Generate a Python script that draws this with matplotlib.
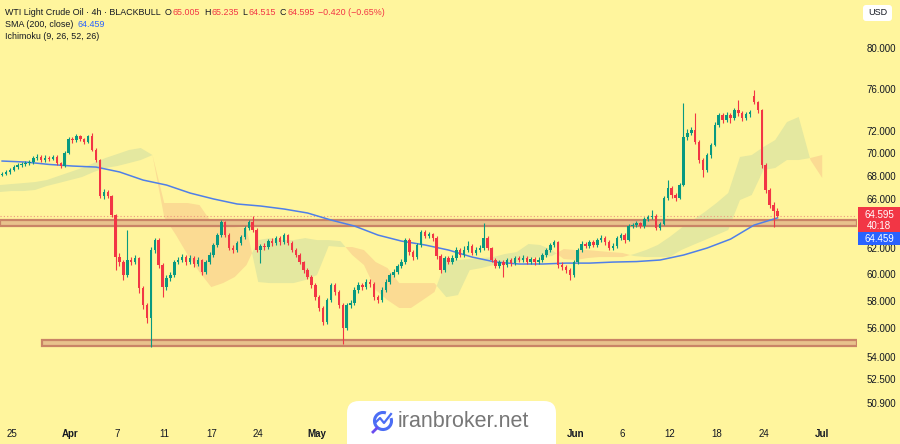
import numpy as np
import matplotlib
matplotlib.use('Agg')
import matplotlib.pyplot as plt
from matplotlib.patches import Rectangle, FancyBboxPatch, Arc

from matplotlib.ticker import NullLocator

plt.rcParams['font.family'] = ['Liberation Sans', 'DejaVu Sans']

# ---------------- data ----------------
first_open = 68.08
gap_opens = {192: 75.29}

closes = [
    68.17, 68.34, 68.51, 68.77, 68.95, 69.04, 69.12, 69.21, 69.57, 69.66,
    69.39, 69.57, 69.48, 69.66, 69.12, 68.86, 70.01, 71.27, 71.18, 71.54,
    71.27, 71.00, 71.54, 70.28, 69.39, 66.28, 66.62, 66.28, 64.69, 61.32,
    60.93, 59.93, 61.09, 60.93, 61.24, 58.95, 57.68, 56.73, 61.87, 62.66,
    60.70, 59.02, 59.70, 59.93, 60.93, 61.09, 61.32, 60.93, 61.24, 60.78,
    61.09, 60.16, 60.93, 61.48, 62.27, 63.06, 64.12, 63.06, 62.03, 61.87,
    62.42, 62.90, 63.63, 64.12, 63.47, 61.87, 62.19, 62.11, 62.58, 62.42,
    62.82, 62.50, 63.06, 62.42, 61.87, 61.48, 60.93, 60.31, 59.78, 59.17,
    58.27, 57.47, 56.45, 58.05, 59.17, 58.65, 57.68, 56.02, 57.68, 57.83,
    58.80, 59.17, 59.02, 59.40, 59.25, 58.27, 58.05, 58.80, 59.40, 59.93,
    60.16, 60.62, 60.93, 62.66, 61.71, 61.32, 62.27, 63.31, 62.98, 63.14,
    62.82, 61.40, 60.31, 61.24, 60.93, 61.24, 61.87, 61.48, 61.87, 62.19,
    61.64, 61.87, 62.03, 62.82, 62.03, 61.09, 60.62, 60.93, 60.70, 61.09,
    60.85, 61.24, 61.09, 61.24, 60.93, 61.17, 60.93, 61.09, 61.48, 61.87,
    62.27, 62.50, 60.70, 60.54, 60.31, 59.93, 60.93, 61.87, 62.34, 62.19,
    62.50, 62.27, 62.66, 62.82, 62.50, 62.03, 62.19, 62.82, 63.06, 62.66,
    63.79, 63.87, 64.03, 63.79, 64.36, 64.52, 64.61, 63.63, 63.95, 66.11,
    66.96, 66.36, 66.11, 67.21, 71.45, 71.82, 72.09, 71.00, 69.39, 68.51,
    69.83, 70.73, 72.55, 73.48, 73.02, 73.48, 73.20, 73.95, 73.67, 73.20,
    73.58, 73.76, 74.71, 73.95, 68.95, 66.79, 65.52, 65.005, 64.595,
]
highs = [
    68.35, 68.50, 68.70, 68.95, 69.10, 69.25, 69.30, 69.40, 69.75, 69.90,
    69.85, 69.80, 69.75, 69.85, 69.80, 69.25, 70.20, 71.45, 71.50, 71.72,
    71.65, 71.40, 71.65, 71.82, 70.45, 69.50, 66.85, 66.80, 66.40, 64.80,
    61.60, 61.10, 63.47, 61.35, 61.45, 61.35, 59.10, 57.85, 62.10, 62.82,
    62.80, 60.85, 59.95, 60.20, 61.10, 61.30, 61.55, 61.50, 61.45, 61.40,
    61.30, 61.20, 61.10, 61.70, 62.45, 63.25, 64.28, 64.20, 63.20, 62.25,
    62.60, 63.10, 63.80, 64.30, 64.61, 63.60, 62.35, 62.40, 62.75, 62.80,
    63.00, 62.95, 63.22, 63.15, 62.55, 62.00, 61.60, 61.05, 60.45, 59.90,
    59.30, 58.40, 57.60, 58.20, 59.35, 59.30, 58.80, 57.80, 57.85, 58.05,
    59.00, 59.40, 59.35, 59.60, 59.60, 59.40, 58.45, 59.00, 59.60, 60.10,
    60.40, 60.80, 61.15, 62.85, 62.80, 61.85, 62.45, 63.50, 63.45, 63.35,
    63.25, 62.95, 61.55, 61.40, 61.40, 61.45, 62.10, 62.05, 62.20, 62.55,
    62.35, 62.10, 62.30, 64.03, 62.95, 62.15, 61.25, 61.10, 61.10, 61.25,
    61.25, 61.40, 61.40, 61.45, 61.40, 61.35, 61.35, 61.30, 61.65, 62.05,
    62.45, 62.66, 62.60, 60.90, 60.70, 60.45, 61.10, 62.05, 62.55, 62.50,
    62.70, 62.65, 62.85, 63.05, 63.00, 62.65, 62.40, 63.00, 63.25, 63.20,
    63.95, 64.05, 64.20, 64.15, 64.55, 64.70, 65.11, 64.75, 64.15, 66.30,
    67.64, 67.10, 66.50, 67.40, 74.62, 72.20, 72.40, 73.67, 71.20, 69.55,
    70.05, 70.95, 72.80, 73.70, 73.65, 73.75, 73.70, 74.15, 74.90, 73.85,
    73.80, 73.95, 75.86, 74.85, 74.05, 69.10, 66.95, 65.80, 65.235,
]
lows = [
    67.95, 68.05, 68.20, 68.40, 68.60, 68.80, 68.90, 68.95, 69.05, 69.40,
    69.20, 69.25, 69.30, 69.35, 68.95, 68.65, 68.75, 69.90, 70.95, 71.00,
    71.05, 70.85, 70.90, 70.15, 69.20, 66.10, 66.05, 66.10, 64.50, 60.30,
    60.60, 59.55, 59.80, 60.70, 60.75, 58.60, 57.40, 56.40, 54.68, 61.60,
    60.50, 58.30, 58.80, 59.45, 59.80, 60.75, 60.90, 60.70, 60.80, 60.55,
    60.60, 59.95, 60.00, 60.80, 61.35, 62.10, 62.90, 62.90, 61.85, 61.60,
    61.75, 62.25, 62.75, 63.45, 63.30, 61.70, 60.85, 61.90, 61.95, 62.20,
    62.25, 62.30, 62.35, 62.25, 61.70, 61.30, 60.75, 60.10, 59.60, 58.95,
    58.05, 57.25, 56.23, 56.30, 57.90, 58.45, 57.45, 54.89, 55.90, 57.50,
    57.70, 58.60, 58.80, 58.90, 59.05, 58.05, 57.80, 57.90, 58.65, 59.25,
    59.80, 60.00, 60.45, 60.80, 61.50, 61.10, 61.20, 62.15, 62.80, 62.80,
    62.60, 61.20, 60.10, 60.15, 60.75, 60.80, 61.10, 61.30, 61.35, 61.70,
    61.45, 61.50, 61.70, 61.90, 61.85, 60.90, 60.45, 60.45, 59.80, 60.55,
    60.65, 60.70, 60.90, 60.95, 60.75, 60.80, 60.70, 60.75, 60.95, 61.35,
    61.75, 62.10, 60.50, 60.30, 60.10, 59.55, 59.80, 60.80, 61.70, 62.00,
    62.05, 62.10, 62.10, 62.50, 62.30, 61.85, 61.85, 62.05, 62.65, 62.45,
    62.55, 63.60, 63.70, 63.60, 63.65, 64.20, 64.35, 63.45, 63.50, 63.85,
    65.95, 66.15, 65.90, 66.00, 67.10, 71.20, 71.60, 70.80, 69.15, 67.90,
    68.35, 69.60, 70.60, 72.35, 72.70, 72.80, 72.70, 73.00, 73.40, 72.90,
    73.00, 73.30, 74.50, 73.70, 68.70, 66.50, 65.30, 63.71, 64.515,
]

sma200 = [
    69.30, 69.21, 69.00, 68.86, 68.77, 68.34, 67.64, 67.21, 66.53, 66.03,
    65.61, 65.44, 65.19, 64.86, 64.28, 63.79, 63.06, 62.58, 62.27, 61.87,
    61.32, 60.93, 60.78, 60.78, 60.85, 60.85, 60.93, 60.97, 61.09, 61.48,
    62.03, 62.74, 63.87, 64.46,
]

span_a = [
    67.21, 67.30, 67.38, 67.47, 67.64, 67.99, 68.34, 68.69, 69.12, 69.57,
    69.92, 70.28, 70.46, 69.83, 64.53, 63.06, 61.48, 60.16, 59.02, 59.32,
    59.78, 60.70, 62.66, 62.82, 62.66, 62.66, 62.82, 62.66, 62.66, 62.58,
    61.48, 60.70, 58.80, 58.05, 57.47, 57.47, 58.05, 58.65, 61.09, 61.09,
    61.17, 61.24, 61.32, 61.56, 61.71, 62.35, 62.27, 61.87, 61.17, 61.09,
    61.24, 61.32, 61.32, 61.32, 61.56, 61.87, 62.27, 62.90, 63.63, 64.28,
    64.94, 65.69, 66.53, 69.66, 69.83, 70.55, 71.18, 72.83, 73.30, 69.39,
    67.82,
]
span_b = [
    66.62, 66.70, 66.70, 66.79, 67.13, 67.38, 67.64, 67.90, 68.34, 68.69,
    68.86, 69.12, 69.39, 69.83, 65.69, 65.69, 65.69, 65.52, 64.12, 63.87,
    63.71, 63.63, 59.40, 59.32, 59.32, 59.32, 59.55, 59.93, 62.19, 62.11,
    62.11, 61.87, 60.93, 60.47, 59.32, 59.32, 59.32, 59.32, 58.27, 58.42,
    60.31, 60.47, 60.70, 60.85, 60.93, 61.24, 61.32, 61.40, 61.95, 61.87,
    61.87, 61.79, 61.71, 61.64, 61.40, 61.32, 61.32, 61.32, 61.87, 62.27,
    62.66, 63.06, 63.47, 65.94, 66.36, 68.51, 68.69, 69.39, 69.39, 69.57,
    69.83,
]

x_tick_days = [0, 5, 9, 13, 17, 21, 26, 48, 52, 56, 60, 64, 69]
x_tick_labels = ['25', 'Apr', '7', '11', '17', '24', 'May', 'Jun', '6', '12', '18', '24', 'Jul']
month_labels = {'Apr', 'May', 'Jun', 'Jul'}
price_ticks = [80, 76, 72, 70, 68, 66, 62, 60, 58, 56, 54, 52.5, 50.9]
zone_upper = (63.78, 64.28)
zone_lower = (54.78, 55.17)
zone_lower_start_day = 2.6
last_price = 64.595
sma_last = 64.459
countdown = '40:18'

# ---------------- figure ----------------
W, H = 900, 444
bg = '#FFF59D'
up_col = '#089981'
dn_col = '#F23645'
txt_col = '#131722'

fig = plt.figure(figsize=(W / 100, H / 100), dpi=100)
fig.patch.set_facecolor(bg)
ax = fig.add_axes([0, 19 / H, 857 / W, 425 / H])
ax.set_facecolor(bg)
ax.set_yscale('log')
ax.set_ylim(49.51, 85.08)
ax.set_xlim(-0.979, 71.96)
for s in ax.spines.values():
    s.set_visible(False)

# Ichimoku cloud
cloud_days = np.arange(-1, -1 + len(span_a))
a = np.array(span_a)
b = np.array(span_b)
ax.fill_between(cloud_days, a, b, where=a >= b, interpolate=True,
                color='#E4E8A0', lw=0, zorder=1)
ax.fill_between(cloud_days, a, b, where=a <= b, interpolate=True,
                color='#FBDB93', lw=0, zorder=1)

# zones
xl = ax.get_xlim()
ax.add_patch(Rectangle((xl[0], zone_upper[0]), xl[1] - xl[0], zone_upper[1] - zone_upper[0],
                       facecolor='#E8C28C', edgecolor='#C98466', lw=1.6, zorder=2))
ax.add_patch(Rectangle((zone_lower_start_day, zone_lower[0]), xl[1] - zone_lower_start_day,
                       zone_lower[1] - zone_lower[0],
                       facecolor='#E8C28C', edgecolor='#C98466', lw=1.6, zorder=2))
ax.axhline(last_price, color='#F0937F', lw=0.8, ls=(0, (1, 2)), zorder=2)

# SMA
sma_days = -0.8 + 2 * np.arange(len(sma200))
ax.plot(sma_days, sma200, color='#4F7FE8', lw=1.1, zorder=3)

# candles
n = len(closes)
cx = -0.809 + np.arange(n) / 3.0
opens = [first_open] + closes[:-1]
for k, v in gap_opens.items():
    opens[k] = v
opens = np.array(opens)
cl = np.array(closes)
hi = np.array(highs)
lo = np.array(lows)
cols = np.where(cl >= opens, up_col, dn_col)
ax.vlines(cx, lo, hi, colors=cols, lw=0.8, zorder=4)
bot = np.minimum(opens, cl)
hgt = np.maximum(np.abs(cl - opens), 0.03)
ax.bar(cx, hgt, bottom=bot, width=0.21, color=cols, lw=0, zorder=5)

# axes ticks
ax.yaxis.set_ticks_position('right')
ax.set_yticks(price_ticks)
ax.set_yticklabels(['%.3f' % p for p in price_ticks])
ax.yaxis.set_minor_locator(NullLocator())
ax.tick_params(axis='y', length=0, pad=7, labelsize=7, labelcolor=txt_col)
ax.set_xticks(x_tick_days)
ax.set_xticklabels(x_tick_labels)
ax.tick_params(axis='x', length=0, pad=3, labelsize=7, labelcolor=txt_col)
for t in ax.get_xticklabels():
    if t.get_text() in month_labels:
        t.set_fontweight('bold')

# ---------------- overlays (inch coords) ----------------
tr = fig.dpi_scale_trans

def yin(py):
    return (H - py) / 100.0

# price labels on the right
fig.add_artist(Rectangle((8.58, yin(232)), 0.42, 0.25, transform=tr,
                         facecolor=dn_col, edgecolor='none'))
fig.add_artist(Rectangle((8.58, yin(245)), 0.42, 0.13, transform=tr,
                         facecolor='#2962FF', edgecolor='none'))
fig.text(8.79, yin(214.5), '%.3f' % last_price, transform=tr, ha='center', va='center',
         color='white', fontsize=7)
fig.text(8.79, yin(225.5), countdown, transform=tr, ha='center', va='center',
         color='white', fontsize=7)
fig.text(8.79, yin(238.5), '%.3f' % sma_last, transform=tr, ha='center', va='center',
         color='white', fontsize=7)

# USD box
fig.add_artist(FancyBboxPatch((8.63, yin(21)), 0.29, 0.16, transform=tr,
                              boxstyle='round,pad=0,rounding_size=0.03',
                              facecolor='white', edgecolor='none'))
fig.text(8.775, yin(12.5), 'USD', transform=tr, ha='center', va='center',
         color=txt_col, fontsize=6.5)

# legend text, laid out piece by piece
renderer = fig.canvas.get_renderer()
fs = 6.4

def row(y, pieces, x0=0.05):
    x = x0
    for txt, col, gap in pieces:
        t = fig.text(x, y, txt, transform=tr, va='center', color=col, fontsize=fs)
        bb = t.get_window_extent(renderer)
        x += bb.width / 100.0 + gap

row(yin(12), [('WTI Light Crude Oil · 4h · BLACKBULL', txt_col, 0.04),
              ('O', txt_col, 0.008), ('65.005', dn_col, 0.04),
              ('H', txt_col, 0.008), ('65.235', dn_col, 0.04),
              ('L', txt_col, 0.008), ('64.515', dn_col, 0.04),
              ('C', txt_col, 0.008), ('64.595', dn_col, 0.03),
              ('\u22120.420 (\u22120.65%)', dn_col, 0.0)])
row(yin(24), [('SMA (200, close)', txt_col, 0.04), ('%.3f' % sma_last, '#2962FF', 0.0)])
row(yin(36), [('Ichimoku (9, 26, 52, 26)', txt_col, 0.0)])

# watermark
fig.add_artist(FancyBboxPatch((3.47, -0.2), 2.09, yin(401) + 0.2, transform=tr,
                              boxstyle='round,pad=0,rounding_size=0.12',
                              facecolor='white', edgecolor='none'))
cxl, cyl = 3.83, yin(421)
fig.add_artist(Arc((cxl, cyl), 0.17, 0.17, theta1=70, theta2=380, transform=tr,
                   color='#4C6EF5', lw=2.2))
fig.add_artist(plt.Line2D([cxl - 0.07, cxl - 0.03, cxl + 0.01, cxl + 0.08],
                          [cyl - 0.01, cyl + 0.03, cyl - 0.02, cyl + 0.07],
                          transform=tr, color='#4C6EF5', lw=1.6))
fig.add_artist(plt.Line2D([cxl - 0.06, cxl - 0.1], [cyl - 0.07, cyl - 0.11],
                          transform=tr, color='#6A4CF0', lw=2.0))
fig.text(3.98, cyl, 'iranbroker.net', transform=tr, va='center', color='#777777',
         fontsize=15.5)

fig.savefig('out.png', dpi=100, facecolor=bg)
